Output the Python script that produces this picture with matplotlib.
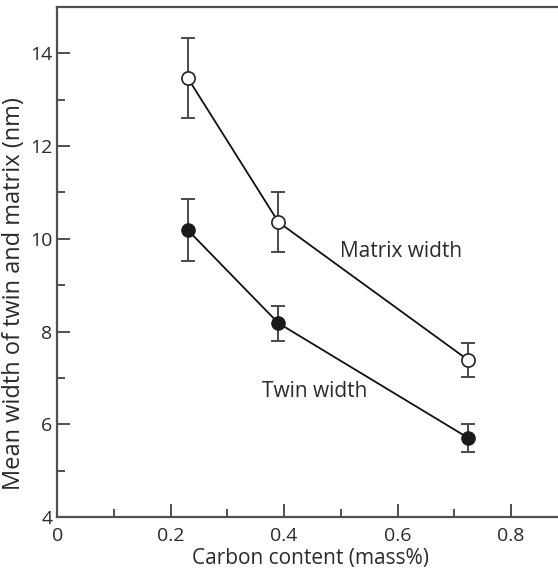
import matplotlib
matplotlib.use("Agg")
import matplotlib.pyplot as plt
from matplotlib.ticker import MultipleLocator

plt.rcParams['font.family'] = ['Open Sans', 'DejaVu Sans']

# carbon content (mass%)
carbon = [0.23, 0.39, 0.724]

# mean widths (nm) and error bar half-heights
matrix_width = [13.47, 10.36, 7.39]
matrix_err = [0.86, 0.64, 0.37]
twin_width = [10.19, 8.18, 5.71]
twin_err = [0.67, 0.38, 0.30]

fig = plt.figure(figsize=(5.58, 5.70), dpi=100)
ax = fig.add_axes([0.1027, 0.093, 0.8973, 0.8947])

spine_col = '#505050'
bar_col = '#4a4a4a'
text_col = '#2a2a2a'

ax.errorbar(carbon, matrix_width, yerr=matrix_err, fmt='none', ecolor=bar_col,
            elinewidth=1.4, capsize=4.8, capthick=1.4, zorder=2)
ax.errorbar(carbon, twin_width, yerr=twin_err, fmt='none', ecolor=bar_col,
            elinewidth=1.4, capsize=4.8, capthick=1.4, zorder=2)

ax.plot(carbon, matrix_width, '-o', color='#111111', lw=1.3,
        markersize=9.5, markerfacecolor='white', markeredgecolor='#222222',
        markeredgewidth=1.2, zorder=3)
ax.plot(carbon, twin_width, '-o', color='#111111', lw=1.3,
        markersize=9.5, markerfacecolor='#1a1a1a', markeredgecolor='#1a1a1a',
        zorder=3)

ax.text(0.4986, 9.60, 'Matrix width', fontsize=15, color=text_col,
        ha='left', va='baseline')
ax.text(0.361, 6.58, 'Twin width', fontsize=15, color=text_col,
        ha='left', va='baseline')

ax.set_xlim(0, 0.883)
ax.set_ylim(4, 15)

ax.set_xticks([0, 0.2, 0.4, 0.6, 0.8])
ax.set_xticklabels(['0', '0.2', '0.4', '0.6', '0.8'])
ax.xaxis.set_minor_locator(MultipleLocator(0.1))
ax.yaxis.set_major_locator(MultipleLocator(2))
ax.yaxis.set_minor_locator(MultipleLocator(1))

ax.tick_params(which='major', direction='in', length=9.5, width=1.4,
               color=spine_col, labelsize=14, labelcolor=text_col)
ax.tick_params(which='minor', direction='in', length=5.5, width=1.4,
               color=spine_col)
ax.tick_params(axis='x', which='major', pad=7)
ax.tick_params(axis='y', which='major', pad=3.6)

for s in ['left', 'bottom', 'top']:
    ax.spines[s].set_color(spine_col)
    ax.spines[s].set_linewidth(1.6)
ax.spines['right'].set_visible(False)

ax.set_xlabel('Carbon content (mass%)', fontsize=15, color=text_col)
ax.xaxis.label.set_va('baseline')
ax.xaxis.set_label_coords(0.506, -0.0922)

ax.set_ylabel('Mean width of twin and matrix (nm)', fontsize=17, color=text_col)
ax.yaxis.label.set_va('center')
ax.yaxis.set_label_coords(-0.0855, 0.439)

fig.savefig('out.png', dpi=100)
